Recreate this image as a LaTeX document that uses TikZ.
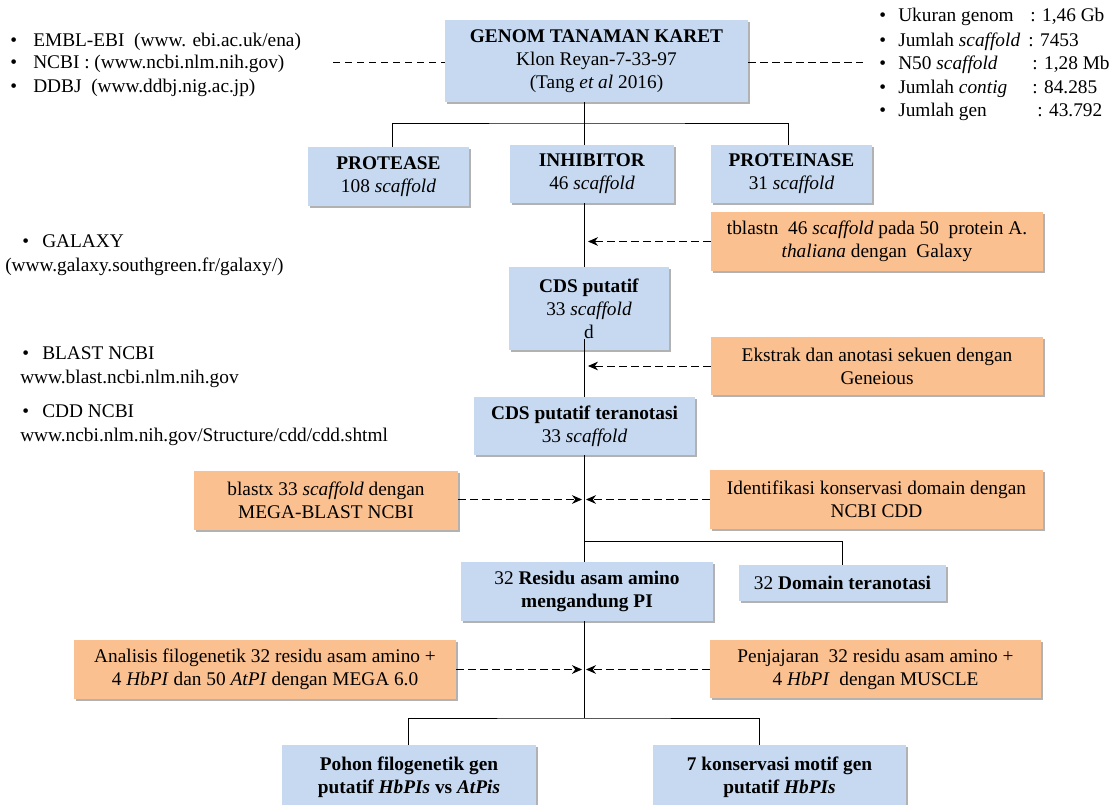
\documentclass[tikz,border=0pt]{standalone}
\usepackage{fontspec}
\setmainfont{Liberation Serif}
\usetikzlibrary{shadows,arrows.meta}
\definecolor{bluebg}{HTML}{C6D9F1}
\definecolor{orangebg}{HTML}{FAC090}
\begin{document}
\begin{tikzpicture}[x=0.75pt,y=-0.75pt,
  font=\fontsize{14.5}{17.25}\selectfont,
  sz/.style 2 args={minimum width=#1*0.75pt, minimum height=#2*0.75pt},
  box/.style={draw=none, inner sep=0pt, align=center, anchor=center,
    drop shadow={shadow xshift=1.5pt, shadow yshift=-1.5pt, fill=black!55, opacity=0.55}},
  bluebox/.style={box, fill=bluebg},
  orbox/.style={box, fill=orangebg},
  conn/.style={draw=black, line width=0.6pt},
  dashline/.style={draw=black, line width=0.6pt, dash pattern=on 5.5pt off 3.5pt},
  dasharrow/.style={dashline, -{Stealth[length=7.5pt,width=6.5pt]}},
  lbl/.style={anchor=base west, inner sep=0pt},
]
\useasboundingbox (0,0) rectangle (1116,805);
\fill[white] (0,0) rectangle (1116,805);

% ---------- boxes ----------
\node[bluebox, sz={303}{82}] (genom) at (596.5,61)
  {\textbf{GENOM TANAMAN KARET}\\Klon Reyan-7-33-97\\(Tang \textit{et al} 2016)};
\node[bluebox, sz={161}{59}] (protease) at (388.5,176.5)
  {\textbf{PROTEASE}\\108 \textit{scaffold}};
\node[bluebox, sz={164}{58}] (inhibitor) at (592,174)
  {\textbf{INHIBITOR}\\46 \textit{scaffold}};
\node[bluebox, sz={161}{58}] (proteinase) at (791.5,174)
  {\textbf{PROTEINASE}\\31 \textit{scaffold}};
\node[orbox, sz={332}{59}] (tblastn) at (877,241.5)
  {tblastn\ \ 46 \textit{scaffold} pada 50\ \ protein A.\\\textit{thaliana} dengan\ \ Galaxy};
\node[bluebox, sz={160}{83}] (cds) at (589,308.5)
  {\textbf{CDS putatif}\\33 \textit{scaffold}\\d};
\node[orbox, sz={332}{58}] (ekstrak) at (877,366)
  {Ekstrak dan anotasi sekuen dengan\\Geneious};
\node[bluebox, sz={221}{58}] (cdsann) at (584.5,426)
  {\textbf{CDS putatif teranotasi}\\33 \textit{scaffold}};
\node[orbox, sz={264}{59}] (blastx) at (326,500.5)
  {blastx 33 \textit{scaffold} dengan\\MEGA-BLAST NCBI};
\node[orbox, sz={333}{59}] (identif) at (876.5,499.5)
  {Identifikasi konservasi domain dengan\\NCBI CDD};
\node[bluebox, sz={252}{59}] (residu) at (587,591.5)
  {32 \textbf{Residu asam amino}\\\textbf{mengandung PI}};
\node[bluebox, sz={207}{36}] (domain) at (842.5,583)
  {32 \textbf{Domain teranotasi}};
\node[orbox, sz={382}{59}] (analisis) at (265,669.5)
  {Analisis filogenetik 32 residu asam amino +\\4 \textit{HbPI} dan 50 \textit{AtPI} dengan MEGA 6.0};
\node[orbox, sz={331}{58}] (penjajaran) at (875.5,669)
  {Penjajaran\ \ 32 residu asam amino +\\4 \textit{HbPI}\ \ dengan MUSCLE};
\node[bluebox, sz={254}{65}] (pohon) at (409,777.5)
  {\textbf{Pohon filogenetik gen}\\\textbf{putatif \textit{HbPIs} vs \textit{AtPis}}};
\node[bluebox, sz={253}{65}] (motif) at (779.5,777.5)
  {\textbf{7 konservasi motif gen}\\\textbf{putatif \textit{HbPIs}}};

% ---------- trunk coordinates ----------
\coordinate (j1) at (584,123);
\coordinate (t1) at (584,339);
\coordinate (j2) at (584,541);
\coordinate (j3) at (584,718);
\coordinate (pl) at (408,718);
\coordinate (pr) at (759,718);
\coordinate (dl) at (842,541);

\draw[conn] (genom.south -| j1) -- (j1);
\draw[conn] (protease.north -| 392,0) |- (j1) -| (proteinase.north -| 788,0);
\draw[conn] (j1) -- (inhibitor.north -| j1);
\draw[conn] (inhibitor.south -| j1) -- (cds.north -| j1);
\draw[conn] (t1) -- (cdsann.north -| t1);
\draw[conn] (cdsann.south -| j2) -- (residu.north -| j2);
\draw[conn] (j2) -- (dl) -- (domain.north -| dl);
\draw[conn] (residu.south -| j3) -- (j3);
\draw[conn] (pohon.north -| pl) |- (j3) -| (motif.north -| pr);

% ---------- dashed arrows ----------
\coordinate (a1) at (588,241.5);
\coordinate (a2) at (588,366);
\coordinate (a3l) at (582,499.5);
\coordinate (a3r) at (586,499.5);
\coordinate (a4l) at (582,669.5);
\coordinate (a4r) at (586,669.5);
\draw[dasharrow] (tblastn.west) -- (a1);
\draw[dasharrow] (ekstrak.west) -- (a2);
\draw[dasharrow] (blastx.east |- a3l) -- (a3l);
\draw[dasharrow] (identif.west |- a3r) -- (a3r);
\draw[dasharrow] (analisis.east) -- (a4l);
\draw[dasharrow] (penjajaran.west |- a4r) -- (a4r);

% ---------- top dashed lines ----------
\coordinate (dtl) at (333,62);
\coordinate (dtr) at (863,62);
\draw[dashline] (dtl) -- (genom.west |- dtl);
\draw[dashline] (genom.east |- dtr) -- (dtr);

% ---------- top-left list ----------
\node[lbl] (lb1) at (10,46.5) {•};
\node[lbl] (lt1) at (33,46.5) {EMBL-EBI\ \ (www. ebi.ac.uk/ena)};
\node[lbl] (lb2) at (10,68.5) {•};
\node[lbl] (lt2) at (33,68.5) {NCBI : (www.ncbi.nlm.nih.gov)};
\node[lbl] (lb3) at (10,92.5) {•};
\node[lbl] (lt3) at (33,92.5) {DDBJ\ \ (www.ddbj.nig.ac.jp)};

% ---------- top-right list ----------
\node[lbl] (rb1) at (879,21.5) {•};
\node[lbl] (rt1) at (898,21.5) {Ukuran genom};
\node[lbl] (rv1) at (1030,21.5) {: 1,46 Gb};
\node[lbl] (rb2) at (879,46.5) {•};
\node[lbl] (rt2) at (898,46.5) {Jumlah \textit{scaffold}};
\node[lbl] (rv2) at (1028,46.5) {: 7453};
\node[lbl] (rb3) at (879,69.5) {•};
\node[lbl] (rt3) at (898,69.5) {N50 \textit{scaffold}};
\node[lbl] (rv3) at (1032,69.5) {: 1,28 Mb};
\node[lbl] (rb4) at (879,93.5) {•};
\node[lbl] (rt4) at (898,93.5) {Jumlah \textit{contig}};
\node[lbl] (rv4) at (1032,93.5) {: 84.285};
\node[lbl] (rb5) at (879,116.5) {•};
\node[lbl] (rt5) at (898,116.5) {Jumlah gen};
\node[lbl] (rv5) at (1037,116.5) {: 43.792};

% ---------- left tool lists ----------
\node[lbl] (gb) at (22,247.5) {•};
\node[lbl] (gt) at (42,247.5) {GALAXY};
\node[lbl] (gu) at (5,271.5) {(www.galaxy.southgreen.fr/galaxy/)};
\node[lbl] (bb) at (22,359.5) {•};
\node[lbl] (bt) at (42,359.5) {BLAST NCBI};
\node[lbl] (bu) at (20,383.5) {www.blast.ncbi.nlm.nih.gov};
\node[lbl] (cb) at (22,417.5) {•};
\node[lbl] (ct) at (42,417.5) {CDD NCBI};
\node[lbl] (cu) at (20,441.5) {www.ncbi.nlm.nih.gov/Structure/cdd/cdd.shtml};
\end{tikzpicture}
\end{document}
